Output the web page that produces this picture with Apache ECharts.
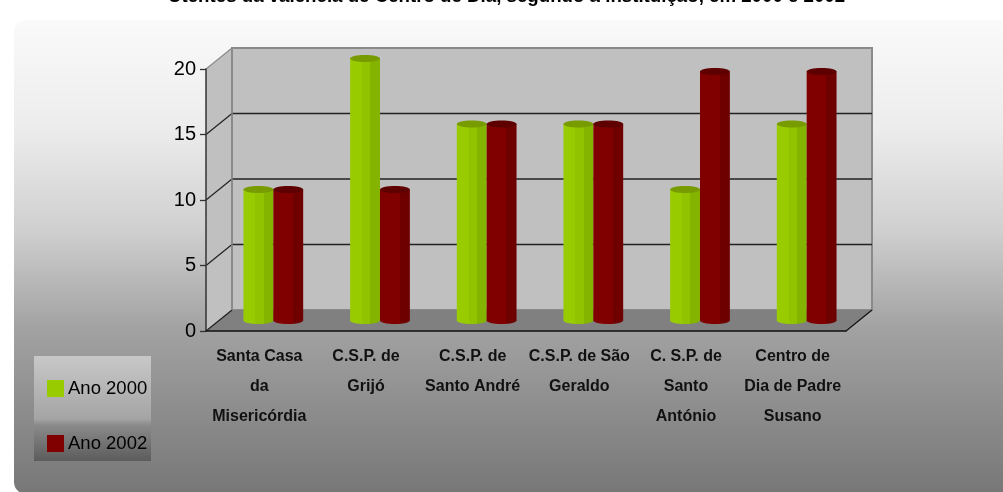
<!DOCTYPE html>
<html>
<head>
<meta charset="utf-8">
<script src="https://cdn.jsdelivr.net/npm/echarts@6/dist/echarts.min.js"></script>
<style>
  html, body { margin: 0; padding: 0; background: #fff; }
  #chart { width: 1003px; height: 492px; }
</style>
</head>
<body>
<div id="chart"></div>
<script>
// dados
const instituicoes = [
  'Santa Casa\nda\nMisericórdia',
  'C.S.P. de\nGrijó',
  'C.S.P. de\nSanto André',
  'C.S.P. de São\nGeraldo',
  'C. S.P. de\nSanto\nAntónio',
  'Centro de\nDia de Padre\nSusano'
]
const ano2000 = [10, 20, 15, 15, 10, 15]
const ano2002 = [10, 10, 15, 15, 19, 19]
const valoresEixo = [0, 5, 10, 15, 20]

// profundidade do efeito 3D
const DX = 26
const DY = -21

const chart = echarts.init(document.getElementById('chart'))

// paredes, chão e linhas de grelha
const renderParedes = (params, api) => {
  const band = api.size([1, 0])[0]
  const esq = api.coord([0, 0])[0] - band / 2
  const dir = api.coord([instituicoes.length - 1, 0])[0] + band / 2
  const y0 = api.coord([0, 0])[1]
  const yMax = api.coord([0, valoresEixo[valoresEixo.length - 1]])[1]
  const filhos = []

  filhos.push({
    type: 'polygon',
    shape: { points: [[esq, y0], [esq, yMax], [esq + DX, yMax + DY], [esq + DX, y0 + DY]] },
    style: { fill: '#c0c0c0' }
  })
  filhos.push({
    type: 'rect',
    shape: { x: esq + DX, y: yMax + DY, width: dir - esq, height: y0 - yMax },
    style: { fill: '#c0c0c0', stroke: '#8a8a8a', lineWidth: 2 }
  })
  filhos.push({
    type: 'polygon',
    shape: { points: [[esq, y0], [dir, y0], [dir + DX, y0 + DY], [esq + DX, y0 + DY]] },
    style: { fill: '#808080' }
  })
  filhos.push({
    type: 'line',
    shape: { x1: dir, y1: y0, x2: dir + DX, y2: y0 + DY },
    style: { stroke: '#111', lineWidth: 1.2 }
  })

  valoresEixo.forEach(v => {
    const y = api.coord([0, v])[1]
    const interior = v > 0 && v < valoresEixo[valoresEixo.length - 1]
    filhos.push({
      type: 'line',
      shape: { x1: esq, y1: y, x2: esq + DX, y2: y + DY },
      style: { stroke: v === 0 || interior ? '#222' : '#8a8a8a', lineWidth: 1.2 }
    })
    if (interior) {
      filhos.push({
        type: 'line',
        shape: { x1: esq + DX, y1: y + DY, x2: dir + DX, y2: y + DY },
        style: { stroke: '#222', lineWidth: 1.3 }
      })
    }
  })
  filhos.push({
    type: 'line',
    shape: { x1: esq + DX, y1: yMax + DY, x2: esq + DX, y2: y0 + DY },
    style: { stroke: '#8a8a8a', lineWidth: 1.5 }
  })
  return { type: 'group', children: filhos }
}

// cilindros
const cilindro = (serie, cores) => (params, api) => {
  const i = api.value(0)
  const v = api.value(1)
  const band = api.size([1, 0])[0]
  const bw = band * 0.28
  const cx = api.coord([i, 0])[0] + DX / 2
  const x0 = cx - bw + serie * bw + 1
  const yTopo = api.coord([i, v])[1] + DY / 2
  const yBase = api.coord([i, 0])[1] + DY / 2
  const ry = 3.5
  const corpo = {
    type: 'linear', x: 0, y: 0, x2: 1, y2: 0,
    colorStops: cores.corpo
  }
  return {
    type: 'group',
    children: [
      { type: 'ellipse', shape: { cx: x0 + bw / 2, cy: yBase, rx: bw / 2, ry: ry }, style: { fill: corpo } },
      { type: 'rect', shape: { x: x0, y: yTopo, width: bw, height: yBase - yTopo }, style: { fill: corpo } },
      { type: 'ellipse', shape: { cx: x0 + bw / 2, cy: yTopo, rx: bw / 2, ry: ry }, style: { fill: cores.topo } }
    ]
  }
}

const coresVerde = {
  corpo: [
    { offset: 0, color: '#99cc00' }, { offset: 0.4, color: '#99cc00' },
    { offset: 0.4, color: '#91c300' }, { offset: 0.68, color: '#91c300' },
    { offset: 0.68, color: '#84b300' }, { offset: 1, color: '#84b300' }
  ],
  topo: '#789c00'
}
const coresVermelho = {
  corpo: [
    { offset: 0, color: '#800000' }, { offset: 0.66, color: '#800000' },
    { offset: 0.66, color: '#6e0000' }, { offset: 1, color: '#6e0000' }
  ],
  topo: '#5e0000'
}

const option = {
  animation: false,
  title: {
    text: 'Utentes da valência de Centro de Dia, segundo a instituição, em 2000 e 2002',
    left: 168,
    top: -13,
    padding: 0,
    textStyle: {
      fontFamily: 'Liberation Sans, Arial',
      fontWeight: 'bold',
      fontSize: 18.7,
      color: '#000'
    }
  },
  graphic: [
    {
      type: 'rect',
      z: -10,
      shape: { x: 14, y: 20, width: 1000, height: 474, r: 12 },
      style: {
        fill: {
          type: 'linear', x: 0, y: 0, x2: 0, y2: 1,
          colorStops: [
            { offset: 0, color: '#fafafa' },
            { offset: 0.23, color: '#ececec' },
            { offset: 0.44, color: '#d0d0d0' },
            { offset: 0.65, color: '#a2a2a2' },
            { offset: 1, color: '#777777' }
          ]
        }
      }
    },
    {
      type: 'rect',
      z: 3,
      shape: { x: 34, y: 356, width: 117, height: 105 },
      style: {
        fill: {
          type: 'linear', x: 0, y: 0, x2: 0, y2: 1,
          colorStops: [
            { offset: 0, color: '#c8c8c8' },
            { offset: 0.6, color: '#a4a4a4' },
            { offset: 0.66, color: '#8a8a8a' },
            { offset: 1, color: '#5c5c5c' }
          ]
        }
      }
    }
  ],
  legend: {
    data: ['Ano 2000', 'Ano 2002'],
    orient: 'vertical',
    left: 47,
    top: 379,
    padding: 0,
    itemWidth: 17,
    itemHeight: 17,
    itemGap: 36,
    icon: 'rect',
    textStyle: { fontFamily: 'Liberation Sans, Arial', fontSize: 18.5, color: '#000', padding: [0, 0, 0, -1] }
  },
  grid: {
    left: 206,
    right: 157,
    top: 69,
    bottom: 161
  },
  xAxis: {
    type: 'category',
    data: instituicoes,
    z: 5,
    axisLine: { lineStyle: { color: '#111', width: 1.5 } },
    axisTick: { length: 5, lineStyle: { color: '#333', width: 1.3 } },
    axisLabel: {
      interval: 0,
      margin: 11,
      lineHeight: 30,
      fontFamily: 'Liberation Sans, Arial',
      fontWeight: 'bold',
      fontSize: 16,
      color: '#111'
    }
  },
  yAxis: {
    type: 'value',
    min: 0,
    max: 20,
    interval: 5,
    z: 5,
    axisLine: { show: true, lineStyle: { color: '#333', width: 1.5 } },
    axisTick: { show: true, length: 6, lineStyle: { color: '#333', width: 1.3 } },
    axisLabel: { fontFamily: 'Liberation Sans, Arial', fontSize: 20, color: '#000', margin: 10 },
    splitLine: { show: false }
  },
  series: [
    {
      name: 'paredes',
      type: 'custom',
      z: 1,
      silent: true,
      renderItem: renderParedes,
      data: [[0, 0]]
    },
    {
      name: 'Ano 2000',
      type: 'custom',
      z: 2,
      itemStyle: { color: '#99cc00' },
      renderItem: cilindro(0, coresVerde),
      data: ano2000.map((v, i) => [i, v])
    },
    {
      name: 'Ano 2002',
      type: 'custom',
      z: 2,
      itemStyle: { color: '#800000' },
      renderItem: cilindro(1, coresVermelho),
      data: ano2002.map((v, i) => [i, v])
    }
  ]
}

chart.setOption(option)
</script>
</body>
</html>
